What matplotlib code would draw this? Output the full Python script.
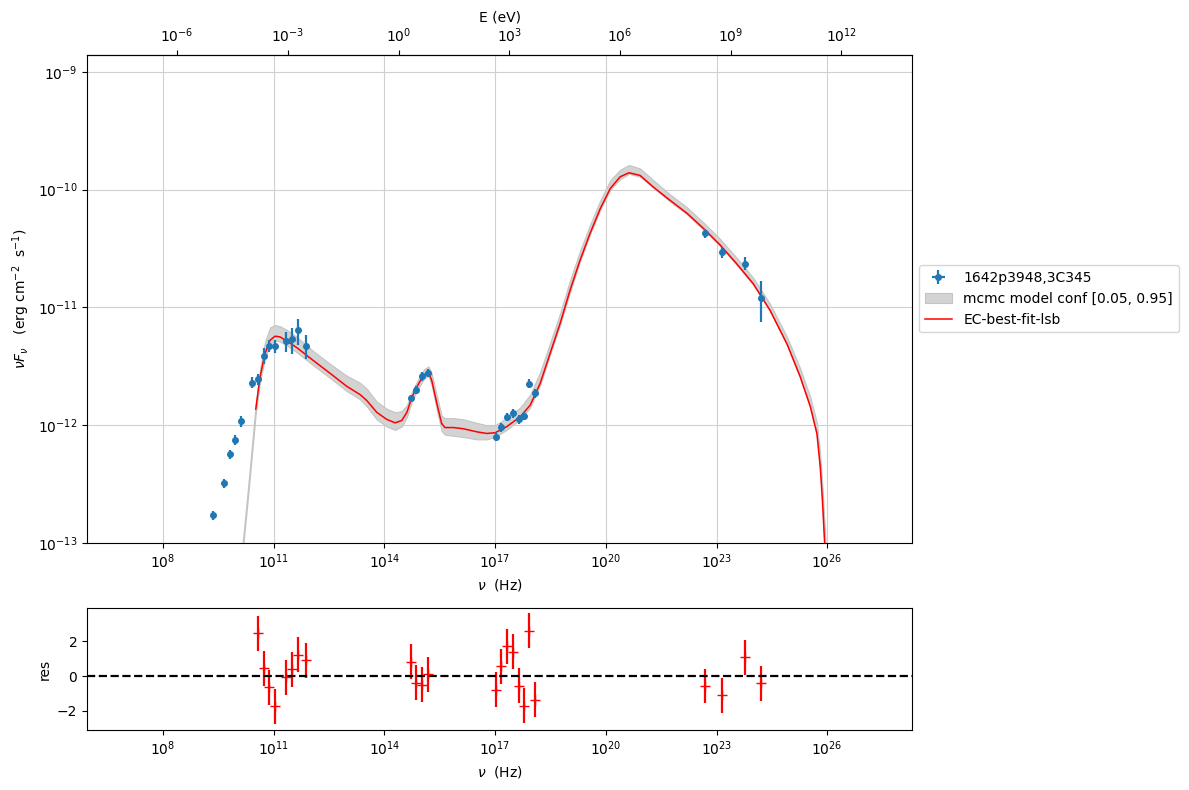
import numpy as np
import matplotlib
matplotlib.use("Agg")
import matplotlib.pyplot as plt
from matplotlib.ticker import NullLocator, FixedLocator

# ---------------- data ----------------
# observed SED points: log10(nu/Hz), nuFnu [erg cm-2 s-1], 1-sigma error
data_lognu = [9.347, 9.654, 9.816, 9.96, 10.11, 10.41, 10.575, 10.738, 10.873, 11.036,
              11.33, 11.497, 11.65, 11.87,
              14.714, 14.858, 15.02, 15.19,
              17.03, 17.16, 17.33, 17.49, 17.64, 17.79, 17.93, 18.09,
              22.69, 23.15, 23.76, 24.2]
data_flux = [1.73e-13, 3.2e-13, 5.7e-13, 7.5e-13, 1.08e-12, 2.3e-12, 2.45e-12, 3.9e-12, 4.7e-12, 4.7e-12,
             5.2e-12, 5.35e-12, 6.4e-12, 4.75e-12,
             1.69e-12, 2.0e-12, 2.6e-12, 2.8e-12,
             8.0e-13, 9.6e-13, 1.18e-12, 1.26e-12, 1.13e-12, 1.2e-12, 2.26e-12, 1.86e-12,
             4.28e-11, 2.94e-11, 2.36e-11, 1.21e-11]
data_err = [0.15e-13, 0.28e-13, 0.5e-13, 0.75e-13, 0.11e-12, 0.25e-12, 0.27e-12, 0.6e-12, 0.55e-12, 0.6e-12,
            1.0e-12, 1.3e-12, 1.6e-12, 1.1e-12,
            0.13e-12, 0.16e-12, 0.22e-12, 0.22e-12,
            0.7e-13, 0.8e-13, 0.1e-12, 0.11e-12, 0.1e-12, 0.1e-12, 0.2e-12, 0.17e-12,
            0.38e-11, 0.3e-11, 0.3e-11, 0.46e-11]

# best-fit model curve: log10(nu), log10(nuFnu)
model_lognu = [10.513, 10.63, 10.765, 10.90, 11.036, 11.17, 11.35, 11.62, 12.07, 12.53,
               12.98, 13.34, 13.52, 13.79, 14.06, 14.29, 14.47, 14.61, 14.74, 14.88,
               15.06, 15.19, 15.28, 15.42, 15.55, 15.64, 15.87, 16.14, 16.50, 16.77,
               17.0, 17.31, 17.68, 17.95, 18.22, 18.49, 18.76, 19.03, 19.30, 19.57,
               19.85, 20.12, 20.39, 20.63, 20.93, 21.29, 21.74, 22.20, 22.65, 23.10,
               23.55, 24.0, 24.45, 24.91, 25.27, 25.54, 25.72, 25.81, 25.87, 25.93]
model_logF = [-11.863, -11.59, -11.39, -11.278, -11.244, -11.25, -11.284, -11.34, -11.45, -11.56,
              -11.67, -11.74, -11.79, -11.89, -11.95, -11.98, -11.96, -11.89, -11.765, -11.674,
              -11.575, -11.547, -11.617, -11.815, -11.985, -12.02, -12.02, -12.03, -12.056, -12.07,
              -12.064, -12.013, -11.928, -11.83, -11.645, -11.39, -11.137, -10.854, -10.60, -10.373,
              -10.16, -9.99, -9.89, -9.856, -9.879, -9.978, -10.09, -10.20, -10.33, -10.47,
              -10.63, -10.80, -11.024, -11.31, -11.59, -11.84, -12.07, -12.35, -12.635, -13.0]

# mcmc confidence band: log10(nu), lower / upper log10(nuFnu)
band_lognu = [10.15, 10.30, 10.513, 10.63, 10.765, 10.90, 11.036, 11.17, 11.35, 11.62,
              12.07, 12.53, 12.98, 13.34, 13.52, 13.79, 14.06, 14.29, 14.47, 14.61,
              14.74, 14.88, 15.06, 15.19, 15.28, 15.42, 15.55, 15.64, 15.87, 16.14,
              16.50, 16.77, 17.0, 17.31, 17.68, 17.95, 18.22, 18.49, 18.76, 19.03,
              19.30, 19.57, 19.85, 20.12, 20.39, 20.63, 20.93, 21.29, 21.74, 22.20,
              22.65, 23.10, 23.55, 24.0, 24.45, 24.91, 25.27, 25.54, 25.72, 25.81,
              25.87, 25.93, 25.97]
band_lo = [-13.10, -12.62, -11.90, -11.63, -11.43, -11.31, -11.28, -11.29, -11.32, -11.38,
           -11.49, -11.60, -11.71, -11.78, -11.84, -11.95, -12.01, -12.04, -12.01, -11.93,
           -11.80, -11.71, -11.61, -11.58, -11.66, -11.87, -12.05, -12.08, -12.09, -12.10,
           -12.12, -12.12, -12.10, -12.04, -11.95, -11.85, -11.66, -11.40, -11.15, -10.87,
           -10.61, -10.38, -10.17, -10.0, -9.91, -9.865, -9.89, -9.985, -10.10, -10.21,
           -10.34, -10.48, -10.64, -10.81, -11.03, -11.32, -11.60, -11.85, -12.08, -12.37,
           -12.66, -13.05, -13.3]
band_hi = [-13.02, -12.54, -11.82, -11.52, -11.29, -11.17, -11.15, -11.16, -11.19, -11.25,
           -11.37, -11.48, -11.58, -11.64, -11.69, -11.80, -11.86, -11.89, -11.88, -11.83,
           -11.72, -11.63, -11.53, -11.50, -11.56, -11.75, -11.92, -11.94, -11.94, -11.95,
           -11.98, -12.00, -12.00, -11.94, -11.85, -11.74, -11.55, -11.30, -11.05, -10.77,
           -10.52, -10.30, -10.09, -9.92, -9.83, -9.79, -9.82, -9.92, -10.04, -10.15,
           -10.28, -10.42, -10.58, -10.75, -10.97, -11.25, -11.52, -11.76, -11.98, -12.25,
           -12.52, -12.85, -13.1]

# residuals: log10(nu), residual value (error = 1)
res_lognu = [10.575, 10.738, 10.873, 11.036, 11.33, 11.497, 11.65, 11.87,
             14.714, 14.858, 15.02, 15.19,
             17.03, 17.16, 17.33, 17.49, 17.64, 17.79, 17.93, 18.09,
             22.69, 23.15, 23.76, 24.2]
res_val = [2.46, 0.45, -0.63, -1.74, -0.08, 0.40, 1.21, 0.91,
           0.82, -0.38, -0.49, 0.09,
           -0.78, 0.57, 1.71, 1.38, -0.55, -1.69, 2.58, -1.35,
           -0.57, -1.10, 1.08, -0.40]
res_err = [1.0] * len(res_val)

energy_ticks = [1e-6, 1e-3, 1e0, 1e3, 1e6, 1e9, 1e12]
nu_ticks = [1e8, 1e11, 1e14, 1e17, 1e20, 1e23, 1e26]
flux_ticks = [1e-13, 1e-12, 1e-11, 1e-10, 1e-9]

# ---------------- plot ----------------
h_eV = 4.135667696e-15

fig = plt.figure(figsize=(11.89, 7.90), dpi=100)
ax = fig.add_axes([0.0732, 0.3127, 0.6939, 0.6177])
axr = fig.add_axes([0.0732, 0.0759, 0.6939, 0.1544])

nu_d = 10 ** np.array(data_lognu)
h_data = ax.errorbar(nu_d, data_flux, yerr=data_err, xerr=nu_d * 0.02, fmt='o', ms=4,
                     color='#1f77b4', elinewidth=1.6, capsize=0,
                     label='1642p3948,3C345', zorder=4)

h_band = ax.fill_between(10 ** np.array(band_lognu), 10 ** np.array(band_lo), 10 ** np.array(band_hi),
                         facecolor='#d3d3d3', edgecolor='#c4c4c4', linewidth=0.8,
                         label='mcmc model conf [0.05, 0.95]', zorder=2)
h_model, = ax.plot(10 ** np.array(model_lognu), 10 ** np.array(model_logF), color='red', lw=1.1,
                   label='EC-best-fit-lsb', zorder=3)

ax.set_xscale('log')
ax.set_yscale('log')
ax.set_xlim(10 ** 5.94, 10 ** 28.3)
ax.set_ylim(1e-13, 10 ** -8.856)
ax.xaxis.set_major_locator(FixedLocator(nu_ticks))
ax.yaxis.set_major_locator(FixedLocator(flux_ticks))
ax.xaxis.set_minor_locator(NullLocator())
ax.yaxis.set_minor_locator(NullLocator())
ax.grid(True, color='#d0d0d0', lw=0.8)
ax.set_axisbelow(True)
ax.set_xlabel(r'$\nu$  (Hz)')
ax.set_ylabel(r'$\nu F_{\nu}$   (erg cm$^{-2}$  s$^{-1}$)')

sec = ax.secondary_xaxis('top', functions=(lambda x: x * h_eV, lambda e: e / h_eV))
sec.set_xscale('log')
sec.xaxis.set_major_locator(FixedLocator(energy_ticks))
sec.xaxis.set_minor_locator(NullLocator())
sec.set_xlabel('E (eV)')

ax.legend([h_data, h_band, h_model],
          ['1642p3948,3C345', 'mcmc model conf [0.05, 0.95]', 'EC-best-fit-lsb'],
          loc='center left', bbox_to_anchor=(1.0, 0.5), fontsize=10)

# residuals
axr.errorbar(10 ** np.array(res_lognu), res_val, yerr=res_err, fmt='+', color='red',
             ms=7, elinewidth=1.6, capsize=0)
axr.axhline(0, color='black', ls='--', lw=1.6)
axr.set_xscale('log')
axr.set_xlim(10 ** 5.94, 10 ** 28.3)
axr.set_ylim(-3.09, 3.89)
axr.xaxis.set_major_locator(FixedLocator(nu_ticks))
axr.xaxis.set_minor_locator(NullLocator())
axr.set_yticks([-2, 0, 2])
axr.set_xlabel(r'$\nu$  (Hz)')
axr.set_ylabel('res')

fig.savefig('out.png', dpi=100)
